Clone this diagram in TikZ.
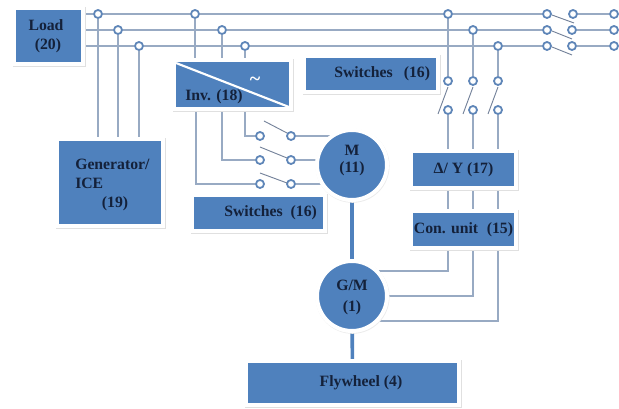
\documentclass[tikz,border=0pt]{standalone}
\usepackage{fontspec}
\setmainfont{Liberation Serif}
\usetikzlibrary{backgrounds}
\definecolor{boxblue}{HTML}{4F81BD}
\definecolor{wire}{HTML}{98AAC3}
\definecolor{ring}{HTML}{5F86B8}
\definecolor{ink}{HTML}{14213A}
\definecolor{blade}{HTML}{74829A}
\tikzset{
  wh/.style 2 args={minimum width=#1*0.75pt,minimum height=#2*0.75pt},
  blue box/.style={rectangle,fill=boxblue,draw=white,line width=3pt,inner sep=0pt,
    preaction={draw=black!12,line width=3pt,transform canvas={xshift=0.6pt,yshift=-0.9pt}}},
  blue disc/.style={circle,fill=boxblue,draw=white,line width=3pt,inner sep=0pt,
    preaction={draw=black!8,line width=3pt,transform canvas={xshift=0.4pt,yshift=-0.6pt}}},
  lbl/.style={font=\bfseries\fontsize{11.8pt}{14pt}\selectfont,text=ink,inner sep=0pt},
  lleft/.style={lbl,anchor=west},
  term/.style={circle,draw=ring,fill=white,line width=1.35pt,minimum size=6pt,inner sep=0pt},
  bus/.style={draw=wire,line width=1pt},
  arm/.style={draw=blade,line width=0.7pt},
  shaft/.style={draw=boxblue,line width=2.7pt},
}
\begin{document}
\begin{tikzpicture}[x=0.75pt,y=-0.75pt]
\useasboundingbox (0,0) rectangle (619,409);
% boxes
\node[blue box,wh={69}{56}] (load) at (48.5,36) {};
\node[blue box,wh={106}{87}] (gen) at (110,182.5) {};
\node[blue box,wh={117}{49}] (inv) at (232.5,84.5) {};
\node[blue box,wh={134}{36}] (swt) at (371,74) {};
\node[blue box,wh={133}{36}] (swb) at (258.5,213) {};
\node[blue box,wh={105}{37}] (dy) at (463.5,169.5) {};
\node[blue box,wh={105}{37}] (con) at (463.5,229.5) {};
\node[blue box,wh={213}{44}] (fly) at (352.5,383) {};
\node[blue disc,minimum size=70*0.75pt] (m) at (352,165) {};
\node[blue disc,minimum size=70*0.75pt] (gm) at (352,296) {};
% inverter diagonal
\coordinate (d1) at (176,63);
\coordinate (d2) at (289,107);
\draw[white,line width=1.6pt] (d1) -- (d2);
% labels
\node[lbl] (tload1) at (46,25) {Load};
\node[lbl] (tload2) at (48,46) {(20)};
\node[lleft] (tgen1) at (75,164) {Generator/};
\node[lleft] (tgen2) at (75,183) {ICE};
\node[lbl] (tgen3) at (115,204) {(19)};
\node[lbl] (tinv) at (214,97) {Inv. (18)};
\node[font=\bfseries\fontsize{15pt}{15pt}\selectfont,text=white,inner sep=0pt] (tilde) at (255,81) {\textasciitilde};
\node[lleft] (tswt) at (334,74) {Switches\hspace{0.7em}(16)};
\node[lleft] (tswb) at (224,213) {Switches\hspace{0.5em}(16)};
\node[lbl] (tm1) at (352,150) {M};
\node[lbl] (tm2) at (352,169) {(11)};
\node[lbl] (tgm1) at (352,285) {G/M};
\node[lbl] (tgm2) at (352,308) {(1)};
\node[lbl] (tdy) at (463.5,170) {Δ/ Y (17)};
\node[lbl] (tcon) at (463.5,230) {Con. unit\hspace{0.3em} (15)};
\node[lbl] (tfly) at (361,383) {Flywheel (4)};
% bus terminals
\node[term] (a1) at (98,14) {};
\node[term] (b1) at (118,30) {};
\node[term] (c1) at (139,46) {};
\node[term] (a2) at (195,14) {};
\node[term] (b2) at (222,30) {};
\node[term] (c2) at (245,46) {};
\node[term] (a3) at (448,14) {};
\node[term] (b3) at (473,30) {};
\node[term] (c3) at (498,46) {};
\node[term] (a4) at (547,14) {};
\node[term] (b4) at (547,30) {};
\node[term] (c4) at (547,46) {};
\node[term] (a5) at (573,14) {};
\node[term] (b5) at (572,30) {};
\node[term] (c5) at (572,46) {};
\node[term] (a6) at (614,14) {};
\node[term] (b6) at (614,30) {};
\node[term] (c6) at (614,46) {};
% vertical switches
\node[term] (a7) at (448,81) {};
\node[term] (b7) at (473,81) {};
\node[term] (c7) at (498,81) {};
\node[term] (a8) at (448,110) {};
\node[term] (b8) at (473,110) {};
\node[term] (c8) at (498,110) {};
% motor switches
\node[term] (p1) at (260,136) {};
\node[term] (q1) at (291,136) {};
\node[term] (p2) at (260,160) {};
\node[term] (q2) at (291,160) {};
\node[term] (p3) at (260,184) {};
\node[term] (q3) at (291,184) {};
% switch arms
\coordinate (aa) at (552,15); \coordinate (ab) at (574,23);
\coordinate (ba) at (552,31); \coordinate (bb) at (572,39);
\coordinate (ca) at (552,47); \coordinate (cb) at (572,55);
\coordinate (va) at (448,87); \coordinate (vb) at (438,114);
\coordinate (wa) at (473,87); \coordinate (wb) at (463,114);
\coordinate (xa) at (498,87); \coordinate (xb) at (488,114);
\coordinate (pa) at (264,121); \coordinate (pb) at (287,133);
\coordinate (qa) at (260,147); \coordinate (qb) at (287,158);
\coordinate (ra) at (260,173); \coordinate (rb) at (287,183);
\foreach \u/\v in {aa/ab,ba/bb,ca/cb,va/vb,wa/wb,xa/xb,pa/pb,qa/qb,ra/rb}
  \draw[arm] (\u) -- (\v);
% coordinates under the inverter
\coordinate (i1) at (196,109);
\coordinate (i2) at (222,109);
\coordinate (i3) at (245,109);
\begin{scope}[on background layer]
% bus bars
\draw[bus] (load.east |- a1) -- (a1) -- (a2) -- (a3) -- (a4);
\draw[bus] (load.east |- b1) -- (b1) -- (b2) -- (b3) -- (b4);
\draw[bus] (load.east |- c1) -- (c1) -- (c2) -- (c3) -- (c4);
\draw[bus] (a5) -- (a6);
\draw[bus] (b5) -- (b6);
\draw[bus] (c5) -- (c6);
% generator
\draw[bus] (a1) -- (a1 |- gen.north);
\draw[bus] (b1) -- (b1 |- gen.north);
\draw[bus] (c1) -- (c1 |- gen.north);
% inverter
\draw[bus] (a2) -- (a2 |- inv.north);
\draw[bus] (b2) -- (b2 |- inv.north);
\draw[bus] (c2) -- (c2 |- inv.north);
\draw[bus] (i1) |- (p3);
\draw[bus] (i2) |- (p2);
\draw[bus] (i3) |- (p1);
\draw[bus] (q1) -- (q1 -| m);
\draw[bus] (q2) -- (q2 -| m);
\draw[bus] (q3) -- (q3 -| m);
% vertical switches
\draw[bus] (a3) -- (a7);
\draw[bus] (b3) -- (b7);
\draw[bus] (c3) -- (c7);
\draw[bus] (a8) -- (a8 |- dy.north);
\draw[bus] (b8) -- (b8 |- dy.north);
\draw[bus] (c8) -- (c8 |- dy.north);
\draw[bus] (a8 |- dy.south) -- (a8 |- con.north);
\draw[bus] (b8 |- dy.south) -- (b8 |- con.north);
\draw[bus] (c8 |- dy.south) -- (c8 |- con.north);
% conversion unit to G/M
\coordinate (g1) at (352,271);
\coordinate (g2) at (352,296);
\coordinate (g3) at (352,321);
\draw[bus] (a8 |- con.south) |- (g1);
\draw[bus] (b8 |- con.south) |- (g2);
\draw[bus] (c8 |- con.south) |- (g3);
% shafts
\draw[shaft] (m) -- (gm);
\draw[shaft] (gm) -- (fly);
\end{scope}
\end{tikzpicture}
\end{document}
